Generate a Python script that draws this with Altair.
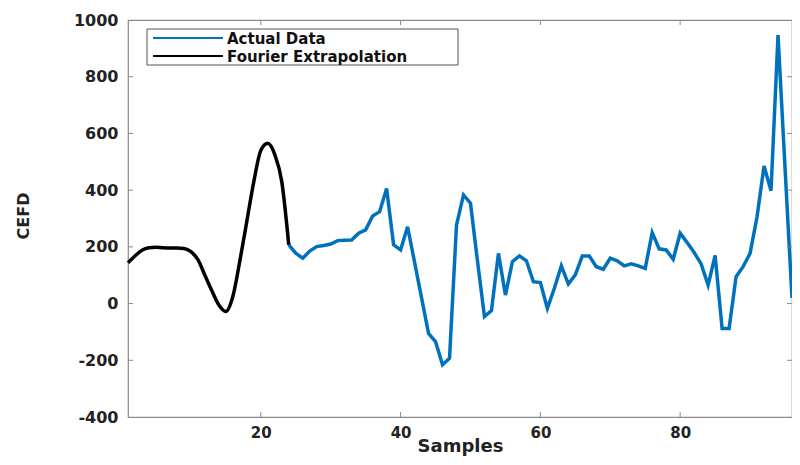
import altair as alt
import pandas as pd

# ---- data ----
samples_fourier = list(range(1, 25))
cefd_fourier = [144, 168, 188, 197, 199, 197, 196, 196, 194, 183, 155, 100,
                45, -5, -28, 25, 150, 290, 430, 540, 565, 525, 430, 207]

samples_actual = list(range(24, 97))
cefd_actual = [207, 178, 160, 185, 201, 205, 210, 222, 223, 224, 248, 260,
               309, 324, 406, 207, 189, 271, 146, 20, -105, -134, -216, -193,
               277, 383, 354, 150, -46, -25, 177, 30, 148, 168, 151, 77,
               74, -17, 54, 133, 69, 101, 168, 168, 130, 121, 160, 151,
               133, 140, 133, 124, 250, 193, 189, 156, 248, 215, 180, 140,
               65, 170, -88, -88, 95, 130, 177, 306, 485, 398, 947, 480, 20]

x_ticks = [20, 40, 60, 80]
y_ticks = [-400, -200, 0, 200, 400, 600, 800, 1000]
legend_names = ["Actual Data", "Fourier Extrapolation"]
legend_colors = ["#0072BD", "#000000"]

# ---- layout ----
W, H = 664, 397
FONT = "DejaVu Sans"
TXT = "#222222"
BOX = "#8a8a8a"

fourier_df = pd.DataFrame({"Samples": samples_fourier, "CEFD": cefd_fourier})
actual_df = pd.DataFrame({"Samples": samples_actual, "CEFD": cefd_actual})
xt_df = pd.DataFrame({"Samples": x_ticks})
yt_df = pd.DataFrame({"CEFD": y_ticks[1:-1]})
one = pd.DataFrame({"a": [0]})

x_scale = alt.Scale(domain=[1, 96], nice=False, zero=False)
y_scale = alt.Scale(domain=[-400, 1000], nice=False, zero=False)

x_axis = alt.Axis(values=x_ticks, title="Samples", grid=False, domain=False,
                  ticks=False, labelFont=FONT, labelFontWeight="bold",
                  labelFontSize=15, labelColor=TXT, labelPadding=8,
                  titleFont=FONT, titleFontWeight="bold", titleFontSize=18,
                  titleColor=TXT, titleY=34, titleBaseline="alphabetic")
y_axis = alt.Axis(values=y_ticks, title="CEFD", grid=False, domain=False,
                  ticks=False, labelFont=FONT, labelFontWeight="bold",
                  labelFontSize=16, labelColor=TXT, labelPadding=10,
                  labelExpr="'' + datum.value",
                  titleFont=FONT, titleFontWeight="bold", titleFontSize=16,
                  titleColor=TXT, titleAngle=270, titleX=-105, titleY=H / 2 - 3,
                  titleAlign="center", titleBaseline="middle")

X = alt.X("Samples:Q", scale=x_scale, axis=x_axis)
Y = alt.Y("CEFD:Q", scale=y_scale, axis=y_axis)

actual = alt.Chart(actual_df).mark_line(color=legend_colors[0], strokeWidth=3.5).encode(x=X, y=Y)
fourier = alt.Chart(fourier_df).mark_line(color=legend_colors[1], strokeWidth=3.5,
                                          interpolate="monotone").encode(x=X, y=Y)

# inward ticks on all four sides (MATLAB box style)
tick_bottom = alt.Chart(xt_df).mark_rule(color=BOX, strokeWidth=1).encode(
    x=X, y=alt.value(H), y2=alt.value(H - 5))
tick_top = alt.Chart(xt_df).mark_rule(color=BOX, strokeWidth=1).encode(
    x=X, y=alt.value(0), y2=alt.value(5))
tick_left = alt.Chart(yt_df).mark_rule(color=BOX, strokeWidth=1).encode(
    y=Y, x=alt.value(0), x2=alt.value(5))
tick_right = alt.Chart(yt_df).mark_rule(color=BOX, strokeWidth=1).encode(
    y=Y, x=alt.value(W), x2=alt.value(W - 5))

# legend box
leg_box = alt.Chart(one).mark_rect(fill="white", stroke="#555555", strokeWidth=1).encode(
    x=alt.value(19), x2=alt.value(330), y=alt.value(9), y2=alt.value(45))
leg_layers = []
for i, (name, col) in enumerate(zip(legend_names, legend_colors)):
    yy = 18 + 18 * i
    df = pd.DataFrame({"name": [name]})
    leg_layers.append(alt.Chart(df).mark_rule(color=col, strokeWidth=2).encode(
        x=alt.value(25), x2=alt.value(95), y=alt.value(yy)))
    leg_layers.append(alt.Chart(df).mark_text(
        align="left", baseline="middle", font=FONT, fontWeight="bold",
        fontSize=15, color="#111111").encode(
        x=alt.value(99), y=alt.value(yy + 1), text="name:N"))

chart = alt.layer(
    actual, fourier, tick_bottom, tick_top, tick_left, tick_right, leg_box, *leg_layers
).properties(
    width=W, height=H,
    padding={"left": 120, "top": 12, "right": 0, "bottom": 40},
    autosize=alt.AutoSizeParams(type="none"),
    background="white",
).configure_view(stroke=BOX, strokeWidth=1.2)

chart.save("out.html", embed_options={"renderer": "svg", "actions": False})
